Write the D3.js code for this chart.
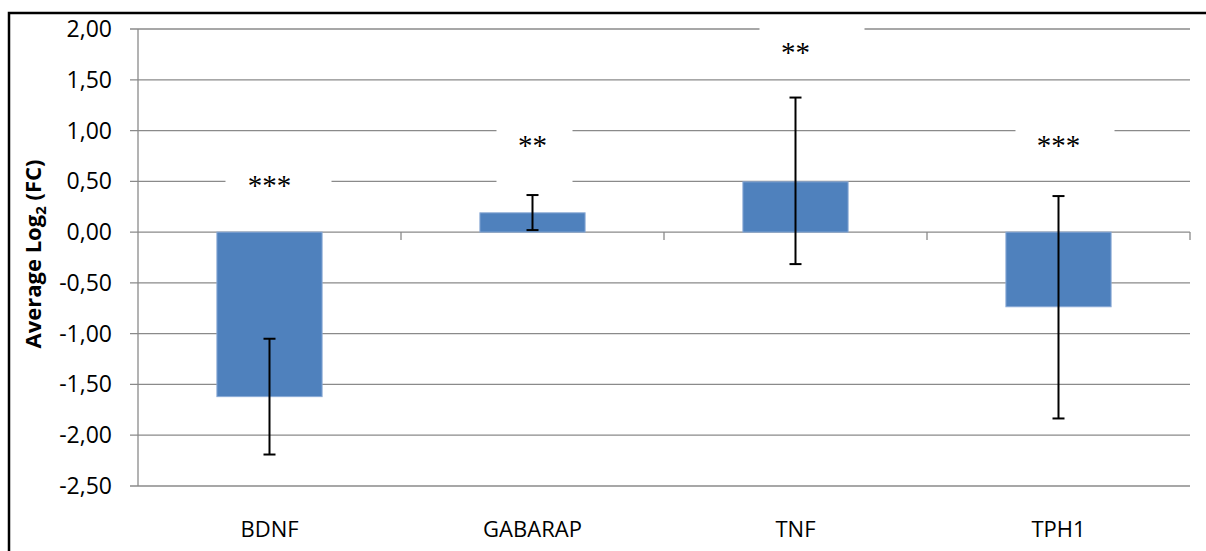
<!DOCTYPE html>
<html>
<head>
<meta charset="utf-8">
<script src="https://cdn.jsdelivr.net/npm/d3@7"></script>
<style>
  body { margin: 0; background: #fff; }
  svg { display: block; }
</style>
</head>
<body>
<div class="graphic"></div>
<script>
// chart values
const categories = ['BDNF', 'GABARAP', 'TNF', 'TPH1'];
const means = [-1.62, 0.19, 0.495, -0.735];
const errLow = [-2.19, 0.02, -0.315, -1.835];
const errHigh = [-1.05, 0.365, 1.325, 0.355];
const stars = ['***', '**', '**', '***'];
const starValues = [0.485, 0.876, 1.79, 0.876];
const yTicks = [-2.5, -2, -1.5, -1, -0.5, 0, 0.5, 1, 1.5, 2];

const width = 1206, height = 551;
const plot = {left: 138, right: 1190, top: 29, bottom: 486};

// white text-box around each star label: [left, right, top, bottom] offsets from text centre
const boxInsets = [[-44, 62, -20, 20], [-36, 40, -18, 42], [-36, 69, -25, 20], [-43, 56, -20, 20]];

const locale = d3.formatLocale({decimal: ',', thousands: '.', grouping: [3], currency: ['', ''], minus: '-'});
const fmt = locale.format('.2f');

const svg = d3.select('.graphic')
  .append('svg')
  .attr('width', width)
  .attr('height', height);

const x = d3.scaleBand()
  .domain(categories)
  .range([plot.left, plot.right])
  .paddingInner(0.6)
  .paddingOuter(0.3);

const xCat = d3.scaleBand()
  .domain(categories)
  .range([plot.left, plot.right]);

const y = d3.scaleLinear()
  .domain([-2.5, 2])
  .range([plot.bottom, plot.top]);

const gridColor = '#8a8a8a';

// gridlines + little ticks to the left
svg.append('g')
  .selectAll('line')
  .data(yTicks)
  .enter().append('line')
  .attr('x1', plot.left - 8)
  .attr('x2', plot.right)
  .attr('y1', d => y(d))
  .attr('y2', d => y(d))
  .style('stroke', gridColor)
  .style('stroke-width', 1.3);

// y axis line
svg.append('line')
  .attr('x1', plot.left).attr('x2', plot.left)
  .attr('y1', y(2)).attr('y2', y(-2.5))
  .style('stroke', gridColor)
  .style('stroke-width', 1.3);

// category ticks on the zero line
svg.append('g')
  .selectAll('line')
  .data(categories)
  .enter().append('line')
  .attr('x1', d => xCat(d) + xCat.bandwidth())
  .attr('x2', d => xCat(d) + xCat.bandwidth())
  .attr('y1', y(0))
  .attr('y2', y(0) + 8)
  .style('stroke', gridColor)
  .style('stroke-width', 1.3);

// y tick labels
svg.append('g')
  .selectAll('text')
  .data(yTicks)
  .enter().append('text')
  .attr('x', 112)
  .attr('y', d => y(d) + 8)
  .attr('text-anchor', 'end')
  .style('font-family', '"Open Sans", sans-serif')
  .style('font-size', '23px')
  .style('fill', '#000')
  .text(d => fmt(d));

// category labels
svg.append('g')
  .selectAll('text')
  .data(categories)
  .enter().append('text')
  .attr('x', d => xCat(d) + xCat.bandwidth() / 2)
  .attr('y', 537)
  .attr('text-anchor', 'middle')
  .style('font-family', '"Open Sans", sans-serif')
  .style('font-size', '22px')
  .style('fill', '#000')
  .text(d => d);

// y axis title
const title = svg.append('text')
  .attr('transform', 'translate(41,' + 254 + ') rotate(-90)')
  .attr('text-anchor', 'middle')
  .style('font-family', '"Open Sans", sans-serif')
  .style('font-size', '22px')
  .style('font-weight', 'bold')
  .style('fill', '#000');
title.append('tspan').text('Average Log');
title.append('tspan').attr('dy', 5).style('font-size', '15px').text('2');
title.append('tspan').attr('dy', -5).text(' (FC)');

// bars
svg.append('g')
  .selectAll('rect')
  .data(categories)
  .enter().append('rect')
  .attr('x', d => x(d))
  .attr('width', x.bandwidth())
  .attr('y', (d, i) => y(Math.max(0, means[i])))
  .attr('height', (d, i) => Math.abs(y(means[i]) - y(0)))
  .style('fill', '#4f81bd')
  .style('stroke', '#8aaad6')
  .style('stroke-width', 1);

// error bars
const eb = svg.append('g')
  .selectAll('g')
  .data(categories)
  .enter().append('g');

eb.append('line')
  .attr('x1', d => x(d) + x.bandwidth() / 2)
  .attr('x2', d => x(d) + x.bandwidth() / 2)
  .attr('y1', (d, i) => y(errHigh[i]))
  .attr('y2', (d, i) => y(errLow[i]))
  .style('stroke', '#000')
  .style('stroke-width', 2);

[errHigh, errLow].forEach(arr => {
  eb.append('line')
    .attr('x1', d => x(d) + x.bandwidth() / 2 - 6)
    .attr('x2', d => x(d) + x.bandwidth() / 2 + 6)
    .attr('y1', (d, i) => y(arr[i]))
    .attr('y2', (d, i) => y(arr[i]))
    .style('stroke', '#000')
    .style('stroke-width', 2);
});

// star labels in white boxes
const ann = svg.append('g')
  .selectAll('g')
  .data(stars)
  .enter().append('g')
  .attr('transform', (d, i) => 'translate(' + (xCat(categories[i]) + xCat.bandwidth() / 2) + ',' + y(starValues[i]) + ')');

ann.append('rect')
  .attr('x', (d, i) => boxInsets[i][0])
  .attr('width', (d, i) => boxInsets[i][1] - boxInsets[i][0])
  .attr('y', (d, i) => boxInsets[i][2])
  .attr('height', (d, i) => boxInsets[i][3] - boxInsets[i][2])
  .style('fill', '#fff');

ann.append('text')
  .attr('x', 0)
  .attr('y', 12)
  .attr('text-anchor', 'middle')
  .style('font-family', '"Liberation Serif", "Times New Roman", serif')
  .style('font-size', '29px')
  .style('fill', '#000')
  .text(d => d);

// outer frame
svg.append('rect')
  .attr('x', 9)
  .attr('y', 13)
  .attr('width', 1220)
  .attr('height', 600)
  .style('fill', 'none')
  .style('stroke', '#000')
  .style('stroke-width', 2.5);
</script>
</body>
</html>
